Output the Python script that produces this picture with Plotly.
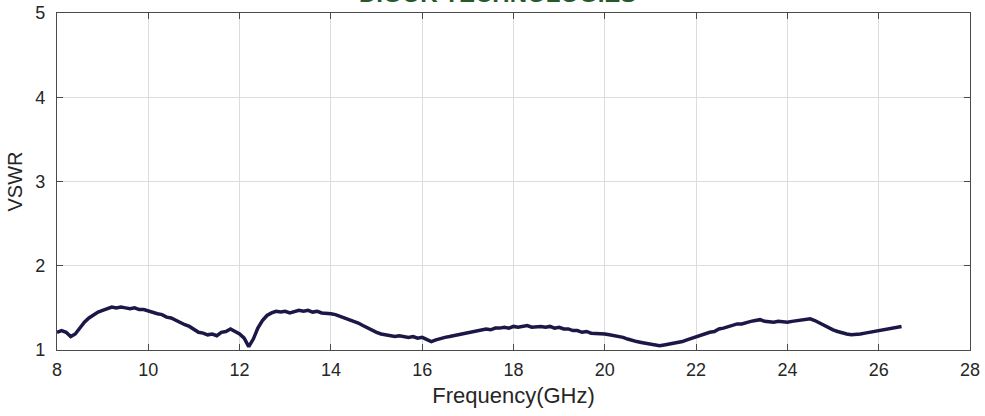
import numpy as np
import plotly.graph_objects as go

freq_ghz = np.round(np.arange(8.0, 26.55, 0.1), 1)

vswr = [
    1.21, 1.23, 1.21, 1.16, 1.19, 1.26, 1.33, 1.38, 1.42, 1.45,   # 8.0-8.9
    1.47, 1.49, 1.51, 1.50, 1.51, 1.50, 1.49, 1.50, 1.48, 1.48,   # 9.0-9.9
    1.46, 1.45, 1.43, 1.42, 1.39, 1.38, 1.35, 1.33, 1.30, 1.28,   # 10.0-10.9
    1.24, 1.21, 1.20, 1.18, 1.19, 1.17, 1.21, 1.22, 1.25, 1.22,   # 11.0-11.9
    1.19, 1.14, 1.04, 1.13, 1.26, 1.35, 1.41, 1.44, 1.46, 1.45,   # 12.0-12.9
    1.46, 1.44, 1.46, 1.47, 1.46, 1.47, 1.45, 1.46, 1.44, 1.44,   # 13.0-13.9
    1.43, 1.42, 1.40, 1.38, 1.37, 1.34, 1.32, 1.29, 1.26, 1.23,   # 14.0-14.9
    1.21, 1.19, 1.18, 1.17, 1.16, 1.17, 1.16, 1.15, 1.16, 1.14,   # 15.0-15.9
    1.15, 1.13, 1.10, 1.12, 1.14, 1.15, 1.16, 1.17, 1.19, 1.19,   # 16.0-16.9
    1.21, 1.22, 1.23, 1.23, 1.25, 1.24, 1.26, 1.26, 1.27, 1.26,   # 17.0-17.9
    1.28, 1.27, 1.28, 1.29, 1.27, 1.28, 1.28, 1.27, 1.28, 1.26,   # 18.0-18.9
    1.27, 1.25, 1.25, 1.23, 1.23, 1.21, 1.22, 1.20, 1.20, 1.19,   # 19.0-19.9
    1.19, 1.18, 1.17, 1.17, 1.15, 1.13, 1.11, 1.10, 1.09, 1.08,   # 20.0-20.9
    1.07, 1.06, 1.05, 1.06, 1.07, 1.07, 1.09, 1.10, 1.12, 1.14,   # 21.0-21.9
    1.16, 1.18, 1.19, 1.21, 1.22, 1.25, 1.26, 1.28, 1.29, 1.31,   # 22.0-22.9
    1.31, 1.33, 1.34, 1.35, 1.36, 1.34, 1.33, 1.33, 1.34, 1.33,   # 23.0-23.9
    1.33, 1.34, 1.35, 1.35, 1.36, 1.37, 1.35, 1.32, 1.29, 1.26,   # 24.0-24.9
    1.24, 1.22, 1.20, 1.19, 1.18, 1.18, 1.19, 1.20, 1.21, 1.21,   # 25.0-25.9
    1.22, 1.24, 1.24, 1.26, 1.27, 1.28,                           # 26.0-26.5
]

x_ticks = [8, 10, 12, 14, 16, 18, 20, 22, 24, 26, 28]
y_ticks = [1, 2, 3, 4, 5]

font_family = "Liberation Sans, Arial, sans-serif"
axis_color = "#4a4a4a"
grid_color = "#dcdcdc"
text_color = "#262626"

fig = go.Figure()
fig.add_trace(go.Scatter(
    x=freq_ghz, y=vswr, mode="lines",
    line=dict(color="#1b1747", width=3.5),
    showlegend=False,
))

fig.update_layout(
    width=985, height=416,
    margin=dict(l=57, r=15, t=13, b=66),
    paper_bgcolor="white", plot_bgcolor="white",
    font=dict(family=font_family, color=text_color, size=18),
)

fig.update_xaxes(
    range=[8, 28], tickvals=x_ticks, ticktext=[str(v) for v in x_ticks],
    showgrid=True, gridcolor=grid_color, gridwidth=1,
    showline=True, linecolor=axis_color, linewidth=1.2, mirror="ticks",
    ticks="inside", ticklen=6, tickcolor=axis_color,
    tickfont=dict(size=18, color=text_color), ticklabelstandoff=3,
    ticklabeloverflow="allow",
    title=dict(text="Frequency(GHz)", font=dict(size=22, color=text_color), standoff=8),
    zeroline=False, automargin=False,
)
fig.update_yaxes(
    range=[1, 5], tickvals=y_ticks, ticktext=[str(v) for v in y_ticks],
    showgrid=True, gridcolor=grid_color, gridwidth=1,
    showline=True, linecolor=axis_color, linewidth=1.2, mirror="ticks",
    ticks="inside", ticklen=6, tickcolor=axis_color,
    tickfont=dict(size=18, color=text_color), ticklabelstandoff=7,
    ticklabeloverflow="allow",
    title=dict(text="VSWR", font=dict(size=20, color=text_color), standoff=7),
    zeroline=False, automargin=False,
)

fig.add_annotation(
    text="<b>DIGOK TECHNOLOGIES</b>", xref="paper", yref="paper",
    x=0.482, y=1.012, xanchor="center", yanchor="bottom", showarrow=False,
    font=dict(family=font_family, size=24, color="#24592a"),
)

fig.write_html(
    "out.html",
    config={"displayModeBar": False},
    post_script="document.body.style.margin='0px';",
)
